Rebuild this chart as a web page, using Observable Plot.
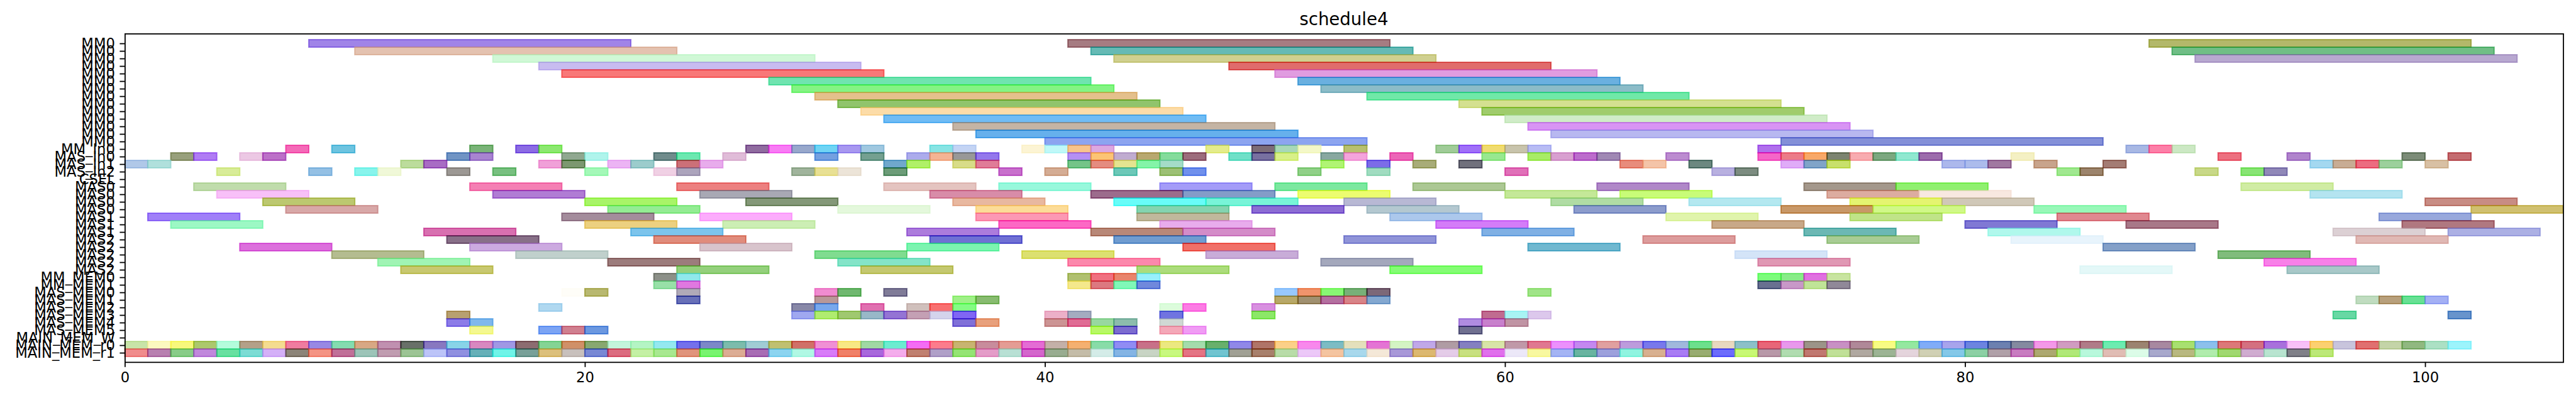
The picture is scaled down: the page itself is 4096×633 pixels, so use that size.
<!DOCTYPE html>
<html><head><meta charset="utf-8">
<script src="https://cdn.jsdelivr.net/npm/d3@7"></script>
<script src="https://cdn.jsdelivr.net/npm/@observablehq/plot@0.6"></script>
<style>
html,body{margin:0;padding:0;background:#fff;}
#wrap{position:relative;width:4096px;height:633px;font-family:"DejaVu Sans",sans-serif;}
#title{position:absolute;left:198.4px;width:3877.1px;top:16.5px;text-align:center;font-size:27.6px;line-height:1;color:#000;}
#chart{position:absolute;left:0;top:0;}
</style></head><body>
<div id="wrap"><div id="chart"></div><div id="title">schedule4</div></div>
<script>
const rowLabels = ["MM0","MM0","MM0","MM0","MM0","MM0","MM0","MM0","MM0","MM0","MM0","MM0","MM0","MM0",
  "MM_In0","MAS_In0","MAS_In1","MAS_In2","CSEL",
  "MAS0","MAS0","MAS0","MAS0","MAS1","MAS1","MAS1","MAS2","MAS2","MAS2","MAS2","MAS2",
  "MM_MEM0","MM_MEM1","MAS_MEM0","MAS_MEM1","MAS_MEM2","MAS_MEM3","MAS_MEM4","MAS_MEM5",
  "MAIN_MEM_W","MAIN_MEM_r0","MAIN_MEM_r1"];

const xTicks = [0, 20, 40, 60, 80, 100];
const xMax = 106;

// task length per row
const rowDurations = [14,14,14,14,14,14,14,14,14,14,14,14,14,14,
  1,1,1,1,1,
  4,4,4,4,4,4,4,4,4,4,4,4,
  1,1,1,1,1,1,1,1,
  1,1,1];

// start times per row
const rowStarts = [
  [8,41,88],[10,42,89],[16,43,90],[18,48],[19,50],[28,51],[29,52],[30,54],[31,58],[32,59],[33,60],[36,61],[37,62],[40,72],
  [7,9,15,17,18,27,28,29,30,31,32,35,36,39,40,41,42,47,49,50,51,53,57,58,59,60,61,71,87,88,89],
  [2,3,5,6,14,15,19,20,23,24,26,30,32,34,35,36,37,41,42,43,44,45,46,48,49,50,52,53,55,59,61,62,63,64,67,71,72,73,74,75,76,77,78,82,91,94,99,101],
  [0,1,12,13,18,19,21,22,24,25,33,34,36,37,41,42,43,44,45,52,54,56,58,65,66,68,72,73,74,79,80,81,83,86,95,96,97,98,100],
  [4,8,10,11,14,16,20,23,24,29,30,31,33,38,40,43,45,46,51,54,60,69,70,84,85,90,92,93],
  [],
  [3,15,24,33,38,45,50,56,64,73,77,92],
  [4,16,25,35,42,46,51,60,65,74,78,95],
  [6,20,27,36,43,47,53,62,68,75,79,100],
  [7,21,31,37,44,49,54,63,72,76,83,102],
  [1,19,25,37,44,55,67,75,84,98],
  [2,20,26,38,45,57,69,80,87,99],
  [13,22,34,42,46,59,73,81,96,101],
  [14,23,35,43,53,66,74,82,97],
  [5,15,25,34,46,61,86],
  [9,17,30,39,47,70,91],
  [11,21,31,41,52,71,93],
  [12,24,32,44,55,85,94],
  [23,24,41,42,43,44,71,72,73,74],
  [23,24,41,42,43,44,71,72,73,74],
  [19,20,24,30,31,33,50,51,52,53,54,61],
  [24,30,36,37,50,51,52,53,54,97,98,99,100],
  [18,29,30,32,34,35,36,45,46,49],
  [14,29,30,31,32,33,34,35,36,40,41,45,49,59,60,61,96,101],
  [14,15,36,37,40,41,42,43,45,58,59,60],
  [15,18,19,20,42,43,45,46,58],
  [],
  [0,1,2,3,4,5,6,7,8,9,10,11,12,13,14,15,16,17,18,19,20,21,22,23,24,25,26,27,28,29,30,31,32,33,34,35,36,37,38,39,40,41,42,43,44,45,46,47,48,49,50,51,52,53,54,55,56,57,58,59,60,61,62,63,64,65,66,67,68,69,70,71,72,73,74,75,76,77,78,79,80,81,82,83,84,85,86,87,88,89,90,91,92,93,94,95,96,97,98,99,100,101],
  [0,1,2,3,4,5,6,7,8,9,10,11,12,13,14,15,16,17,18,19,20,21,22,23,24,25,26,27,28,29,30,31,32,33,34,35,36,37,38,39,40,41,42,43,44,45,46,47,48,49,50,51,52,53,54,55,56,57,58,59,60,61,62,63,64,65,66,67,68,69,70,71,72,73,74,75,76,77,78,79,80,81,82,83,84,85,86,87,88,89,90,91,92,93,94,95]
];

// colours as they appear on white (style, kept apart from the values)
const rowColors = [
  ["#a084e8","#a67c82","#b3b86a"],["#e4c2b0","#66bab5","#70be86"],["#d0f8d6","#d0d090","#b8a8d0"],["#c8bcf0","#e06c6c"],["#f87878","#e09ce0"],
  ["#70e4b0","#6ab0e0"],["#84f484","#8cbcc8"],["#e4c08c","#70e8a8"],["#90c46c","#d4e090"],["#fcdca8","#a0cc6c"],["#70bcf4","#d0ecc8"],
  ["#c4b4a4","#d894f4"],["#64b0ec","#b8b8f0"],["#8ca4f0","#8490d8"],
  ["#f46ab8","#6ec4e0","#7ab478","#8c6ce4","#8ce870","#906ca0","#f87cf4","#98a8cc","#70d4f4","#a898f0","#a0c8e0","#88e4e4","#c4d4f4","#fcf4d4","#c0f8f8","#f8c48c","#dca8e0","#e4ec8c","#7c6c78","#a8d8b8","#f4f8c8","#b8c070","#a0cc98","#a070f8","#f0dc70","#c8c4ac","#b8bcf4","#b070ec","#a8b8e4","#fc80a8","#cce8c4"],
  ["#98a07c","#b07cf4","#ecc8e4","#bc70c8","#7094c4","#a884d0","#90a890","#b0f4ec","#708c8c","#6ce8b0","#e0bcd8","#74a0e0","#74a090","#acacec","#f4b494","#989898","#9478ec","#b490f4","#fcc474","#c0acd0","#b8a870","#84dc9c","#9c6c7c","#70e0c8","#7870a0","#d8f088","#88a8a0","#f4a4dc","#ec64b8","#98e890","#a8ec60","#d8a0d0","#bc6ccc","#a088b4","#bc8cd0","#f464c8","#ec7c88","#f8a868","#7c8470","#f8acb0","#7ca880","#90e8d0","#9c6cac","#f4f0c4","#ec7080","#b084cc","#7c8c78","#c46c70"],
  ["#b0c8e8","#b0e0dc","#bcdc9c","#a86cc4","#f0a0d8","#7c9870","#ecb4f4","#9ccccc","#cc7078","#e8acec","#70a8cc","#b0f068","#d8dc88","#e07c98","#74c488","#e48c80","#e4e490","#84f4a8","#a4dcc8","#b0f474","#7c6ce8","#a8ac78","#70707c","#e88c7c","#f4c4a8","#6c8880","#e0acf8","#80a4c8","#c8e06c","#acb8ec","#acbcec","#a078a0","#c8a48c","#a47c74","#a4d8f0","#c8ac94","#ec6c80","#9cd09c","#d8c0a4"],
  ["#d8ec98","#94c0e4","#88f4ec","#f0f8d8","#9c9894","#78c080","#a4f8b8","#f0d0e4","#aca4bc","#a0b49c","#e8e094","#ece4d8","#6c9c78","#c870cc","#d4ac94","#6cc8b8","#9cc074","#7090ec","#90d088","#a0dcc0","#e070b8","#b8b0e0","#7c8c80","#a0e890","#9c846c","#c8d888","#88e474","#9088b8"],
  [],
  ["#c0dcac","#f480b4","#ec8080","#e4c4c0","#98f8dc","#a49cf8","#7ce8a0","#acc894","#b088c8","#a4988c","#90f070","#d0eca4"],
  ["#f8c0f8","#b07cd4","#a8a8b4","#d88ca8","#9c6c8c","#849cc8","#ecfc70","#c4e898","#c8fc78","#dcaca0","#f8e8e0","#b4e4f0"],
  ["#bcc870","#a8f468","#849878","#e8b8a0","#68fcf8","#78f4d8","#b8b8d4","#b0dca4","#b4e8f0","#e4f470","#d0c8b8","#c88c84"],
  ["#d8a8a8","#94ec94","#e4f8dc","#fcdc98","#84d4b0","#8c6cd4","#b4c8d0","#8c9ccc","#c89868","#d0f888","#98f8b8","#d0c070"],
  ["#a080f8","#a48c9c","#fcacfc","#fc98b4","#c0b89c","#acc8ec","#e0f4ac","#c0e488","#e08890","#98a8dc"],
  ["#9cf8c4","#ecd080","#cceeb4","#fc68c4","#e8acec","#d47cf8","#c8a888","#8078d4","#a87888","#b07880"],
  ["#d870b0","#7cc4ec","#ac7cdc","#b88878","#d48cc8","#80b0e4","#6cb8b4","#b0f8ec","#dcd0d4","#acb0e4"],
  ["#887088","#e08c7c","#7070d4","#709cd0","#9094d8","#dc9c9c","#a8cc94","#e8f4fc","#e0b8b4"],
  ["#dc70dc","#ccaae0","#d8c4cc","#7cf4b0","#f07068","#70b8d0","#84a0c8"],
  ["#b4bc90","#c0d0cc","#80dc90","#dce070","#c8acd8","#d4e4f8","#80bc7c"],
  ["#a0f4b4","#9c7c7c","#84e4c8","#fc88ac","#a4a8bc","#e098b4","#f880e8"],
  ["#c8c870","#94d07c","#c4c870","#acdc7c","#84fc74","#e4f8f8","#a8c8c8"],
  ["#8c9088","#90e8ec","#b0c070","#f07080","#e8846c","#98f0fc","#7cfc7c","#88ec88","#e070e0","#c8e4a0"],
  ["#98e0a8","#e078e0","#f4e88c","#dc7880","#80f8b8","#7088dc","#687090","#c898c8","#c0e498","#908898"],
  ["#fefdf8","#b8b870","#b0aab8","#f08cd0","#70b870","#807c98","#98c8fc","#f0946c","#88f874","#78b078","#7c6878","#a0e488"],
  ["#6870b8","#b89898","#a0f088","#88bc70","#b8a868","#a09070","#b470a0","#d88488","#84a8d0","#c0dcc0","#b8a07c","#68e094","#a4b0f4"],
  ["#b0d8f0","#8888a8","#78a8ec","#e070b0","#d0c0bc","#f87070","#84fc84","#dcfcdc","#fc7ce4","#d890e0"],
  ["#b8a070","#a0a8f0","#b0ec70","#a0c870","#98b8c8","#9474d4","#c4a0b4","#d4d4ec","#8064f4","#ecb0c8","#a4acc0","#7074e0","#8ce868","#c06c90","#a8f4f4","#dcc8ec","#68d8a4","#6894cc"],
  ["#8c7ce8","#80b8ec","#8070d8","#e8a07c","#cc9494","#e06c94","#98d8a0","#8cbcac","#d0d8d4","#b08ce0","#c880cc","#c094a4"],
  ["#f4f890","#7ca4f4","#d08090","#6c98e0","#b8f860","#7c6cd0","#f4a8b8","#f09cf4","#707090"],
  [],
  ["#c8e4a8","#fcf8c0","#f8f87c","#acc86c","#b4fcdc","#b4a088","#f4dc90","#f07ca0","#9888e4","#84dcb0","#d8a884","#c090b0","#687068","#8878c0","#88d4e8","#d888c0","#a098e4","#8c6c70","#84d494","#d09068","#88a870","#c4f4dc","#b4f4c4","#94e8f0","#7470ec","#7c88c8","#7cbcac","#a0ccd4","#c0c070","#d07068","#f090d4","#f8e884","#a0d8a4","#6cecd0","#f46cf4","#fc7c8c","#c8b470","#c88c9c","#e49c94","#e46cd4","#c4b0a8","#f4b070","#88dca8","#908cf4","#c87088","#ece880","#a4dcac","#68b06c","#9088e8","#b07468","#fcd088","#f888ec","#7cbcc4","#e4e0bc","#e474d4","#d4f4c4","#c0a8e8","#b09ca4","#8480c0","#d8e4a8","#c098a8","#e07890","#ec90fc","#c488f0","#e0a0a0","#bc9cdc","#7878ec","#a0b8dc","#6ce08c","#e8d8c0","#8cc0c8","#e86478","#e898ec","#9c9488","#c890c4","#b08898","#f8fc84","#94e8a0","#80acf8","#a8a4ec","#6c84e0","#6c80b0","#848aa0","#f498e8","#d09cc0","#b07c88","#6cecb0","#9c8470","#a888a0","#a8e070","#8cc0ec","#dc7878","#d47080","#a870dc","#f8c0f8","#fcd070","#c8c4dc","#e07070","#c4d4a8","#90b880","#ace0c4","#9cf4fc"],
  ["#f08c8c","#b880b0","#88cc88","#c088dc","#68e0a0","#7cdcd4","#d4b0f8","#8c8478","#f49484","#c07098","#9cc4b8","#c09cb0","#9cc494","#bcc4f8","#9090e0","#60b0b8","#70f4e8","#78a098","#dcc07c","#c8c0bc","#7888d4","#dc6c80","#c4f0a4","#a8e890","#e0947c","#78f470","#dcac94","#a86cb4","#8cd4f0","#b0f8e4","#d87cf8","#f08068","#a868dc","#f4acec","#c08070","#b0a0c8","#94e474","#e49cc8","#b8e0d4","#d464cc","#98ac90","#c4bca8","#d4ece8","#84b4e4","#c8d4c4","#c8f880","#e47484","#70c4d0","#a0a094","#a8806c","#b8dca8","#ecc8f8","#f4c4a0","#a8d8ec","#f4e8d8","#a898d8","#dcb870","#e4cce8","#c8e080","#e070ec","#ece8f8","#f8f8a0","#a4b4f4","#68b4a0","#9ca0dc","#90f4e0","#d8b090","#a87cf4","#98ac70","#6c6cfc","#c8f874","#b898a8","#b0dcb0","#c07870","#c0e098","#b0a8a0","#9cb494","#e4d4dc","#d0d0b4","#84c8e8","#8cd0a4","#b0a0a8","#c87cc0","#aca870","#b0e878","#b8f8dc","#e0bcb4","#dcfce8","#a8a8cc","#b8b880","#b0ecac","#a0d870","#d0acd0","#b8e4d0","#808088","#bce878"]
];

// the drawing: an alpha-0.6 face and edge, as in the source; recover the base colour
const ALPHA = 0.6;
function baseColor(obs) {
  const o = d3.rgb(obs || "#a0a0c0");
  const f = v => Math.max(0, Math.min(255, (v - 255 * (1 - ALPHA)) / ALPHA));
  return d3.rgb(f(o.r), f(o.g), f(o.b)).formatHex();
}

const bars = rowStarts.flatMap((starts, i) => starts.map((s, j) => ({
  row: i, x1: s, x2: s + rowDurations[i], color: baseColor((rowColors[i] || [])[j])
})));

const S = 0.848;
const rowIndex = rowLabels.map((_, i) => i);

const chart = Plot.plot({
  width: 4096,
  height: 633,
  marginLeft: 198.4,
  marginRight: 20.5,
  marginTop: 53.4,
  marginBottom: 57.2,
  style: {fontFamily: "'DejaVu Sans', sans-serif", fontSize: "22.7px", background: "#fff", color: "#000"},
  x: {domain: [0, xMax]},
  y: {type: "band", domain: rowIndex, padding: 0},
  color: {type: "identity"},
  marks: [
    Plot.barX(bars, {x1: "x1", x2: "x2", y: "row", fill: "color", stroke: "color",
      fillOpacity: ALPHA, strokeOpacity: ALPHA, strokeWidth: 2.0}),
    Plot.axisX({ticks: xTicks, tickFormat: d => String(d), tickSize: 8, tickPadding: 8, strokeWidth: 1.8, label: null, fontSize: 22.7}),
    Plot.axisY({ticks: rowIndex, tickFormat: i => rowLabels[i], tickSize: 8, tickPadding: 8, strokeWidth: 1.8, label: null, fontSize: 22.7}),
    Plot.frame({stroke: "#000", strokeWidth: 1.8})
  ]
});
document.getElementById("chart").appendChild(chart);
</script>
</body></html>
